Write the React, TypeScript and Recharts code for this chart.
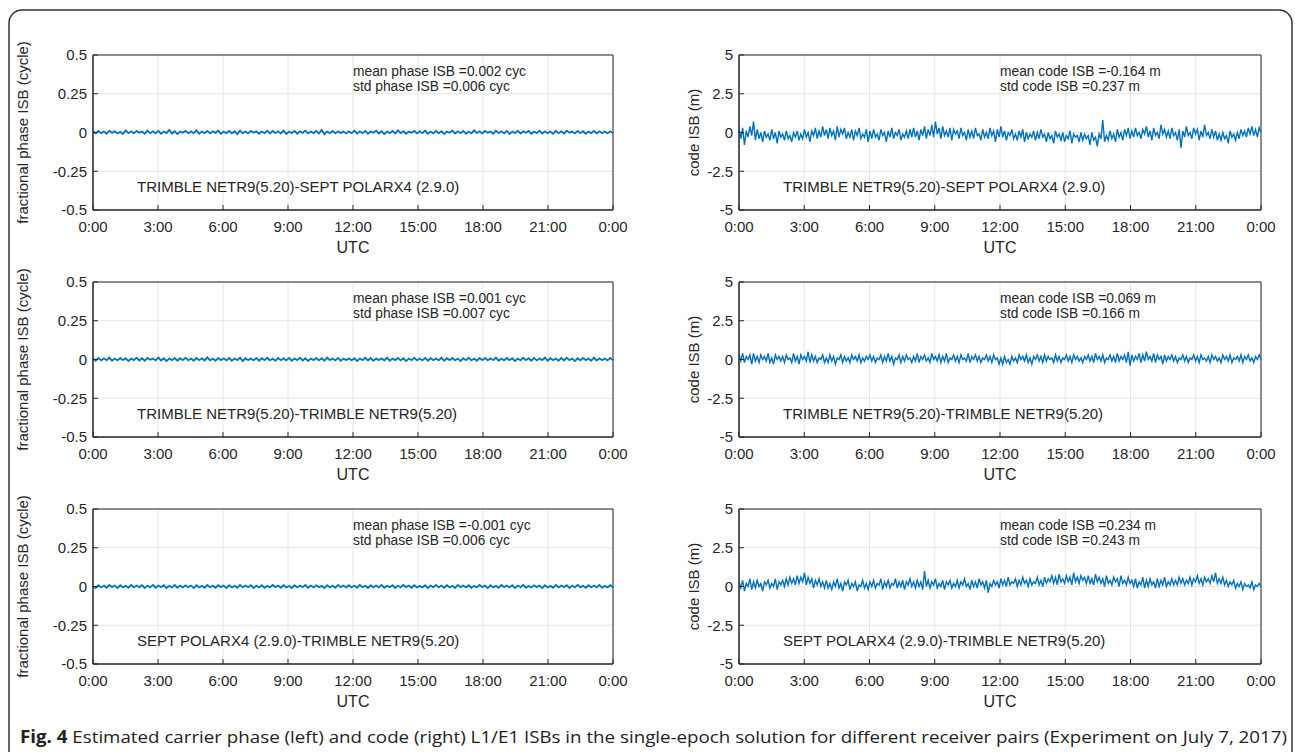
import { LineChart, Line, XAxis, YAxis, CartesianGrid, ReferenceArea } from 'recharts';

// hours of day, 0:00 -> next 0:00
const hourTicks = [0, 3, 6, 9, 12, 15, 18, 21, 24];
const phaseTicks = [-0.5, -0.25, 0, 0.25, 0.5];
const codeTicks = [-5, -2.5, 0, 2.5, 5];

// fractional phase ISB (cycle), every 7.5 min
const phaseTrimSept = [
  0.008, -0.006, 0.010, -0.004, 0.006, -0.008, 0.012, -0.002, 0.008, -0.006, 0.004, -0.010, 0.014, -0.004, 0.008, -0.006, 0.010, -0.002, 0.006, -0.008, 0.012, -0.004, 0.008, -0.006,
  0.010, -0.008, 0.006, -0.004, 0.016, -0.006, 0.008, -0.010, 0.006, -0.002, 0.010, -0.006, 0.008, -0.004, 0.014, -0.008, 0.006, -0.004, 0.010, -0.006, 0.008, -0.002, 0.012, -0.008,
  0.006, -0.004, 0.010, -0.006, 0.008, -0.010, 0.012, -0.004, 0.006, -0.006, 0.010, -0.002, 0.008, -0.008, 0.006, -0.004, 0.012, -0.006, 0.010, -0.004, 0.008, -0.006, 0.012, -0.010,
  0.006, -0.004, 0.010, -0.008, 0.008, -0.002, 0.012, -0.006, 0.006, -0.004, 0.010, -0.006, 0.016, -0.010, 0.006, -0.004, 0.010, -0.006, 0.008, -0.004, 0.006, -0.006, 0.008, -0.004,
  0.012, -0.006, 0.008, -0.004, 0.010, -0.008, 0.006, -0.002, 0.012, -0.006, 0.008, -0.010, 0.006, -0.004, 0.010, -0.006, 0.014, -0.004, 0.008, -0.008, 0.006, -0.002, 0.010, -0.006,
  0.008, -0.004, 0.012, -0.008, 0.006, -0.006, 0.010, -0.004, 0.008, -0.010, 0.006, -0.002, 0.012, -0.006, 0.008, -0.004, 0.010, -0.008, 0.006, -0.006, 0.014, -0.004, 0.008, -0.006,
  0.010, -0.002, 0.006, -0.008, 0.012, -0.004, 0.008, -0.006, 0.010, -0.010, 0.006, -0.004, 0.012, -0.006, 0.008, -0.002, 0.010, -0.008, 0.006, -0.004, 0.012, -0.006, 0.008, -0.004,
  0.006, -0.008, 0.010, -0.004, 0.008, -0.006, 0.012, -0.002, 0.006, -0.006, 0.010, -0.004, 0.008, -0.008, 0.006, -0.004, 0.010, -0.006, 0.008, -0.004, 0.006, -0.006, 0.008, -0.004,
];
const phaseTrimTrim = [
  0.006, -0.008, 0.010, -0.006, 0.008, -0.004, 0.012, -0.008, 0.006, -0.006, 0.010, -0.004, 0.008, -0.010, 0.006, -0.004, 0.012, -0.006, 0.008, -0.008, 0.010, -0.002, 0.006, -0.006,
  0.012, -0.006, 0.008, -0.010, 0.006, -0.004, 0.010, -0.008, 0.008, -0.004, 0.012, -0.006, 0.006, -0.008, 0.010, -0.004, 0.008, -0.006, 0.014, -0.006, 0.006, -0.008, 0.010, -0.004,
  0.008, -0.006, 0.010, -0.008, 0.006, -0.004, 0.012, -0.010, 0.008, -0.004, 0.006, -0.006, 0.010, -0.008, 0.008, -0.004, 0.012, -0.006, 0.006, -0.008, 0.010, -0.004, 0.008, -0.006,
  0.010, -0.008, 0.006, -0.004, 0.012, -0.006, 0.008, -0.010, 0.006, -0.004, 0.010, -0.006, 0.008, -0.008, 0.012, -0.004, 0.006, -0.006, 0.010, -0.008, 0.006, -0.004, 0.008, -0.006,
  0.008, -0.010, 0.006, -0.004, 0.012, -0.006, 0.010, -0.008, 0.006, -0.004, 0.008, -0.006, 0.012, -0.008, 0.006, -0.004, 0.010, -0.006, 0.008, -0.010, 0.006, -0.004, 0.012, -0.006,
  0.006, -0.006, 0.010, -0.008, 0.008, -0.004, 0.006, -0.006, 0.012, -0.008, 0.008, -0.004, 0.010, -0.006, 0.006, -0.010, 0.008, -0.004, 0.012, -0.006, 0.006, -0.008, 0.010, -0.004,
  0.010, -0.006, 0.008, -0.004, 0.012, -0.008, 0.006, -0.006, 0.010, -0.004, 0.008, -0.010, 0.006, -0.006, 0.012, -0.004, 0.008, -0.008, 0.010, -0.006, 0.006, -0.004, 0.012, -0.008,
  0.008, -0.004, 0.006, -0.008, 0.010, -0.006, 0.012, -0.004, 0.006, -0.010, 0.008, -0.006, 0.010, -0.004, 0.006, -0.008, 0.012, -0.006, 0.008, -0.004, 0.006, -0.006, 0.010, -0.006,
];
const phaseSeptTrim = [
  0.004, -0.010, 0.008, -0.006, 0.006, -0.008, 0.010, -0.004, 0.006, -0.010, 0.008, -0.006, 0.004, -0.008, 0.010, -0.006, 0.006, -0.004, 0.008, -0.010, 0.006, -0.006, 0.010, -0.008,
  0.006, -0.004, 0.008, -0.010, 0.004, -0.006, 0.010, -0.008, 0.006, -0.006, 0.008, -0.004, 0.006, -0.010, 0.008, -0.006, 0.004, -0.008, 0.010, -0.006, 0.006, -0.008, 0.008, -0.004,
  0.006, -0.010, 0.008, -0.006, 0.004, -0.008, 0.010, -0.006, 0.006, -0.004, 0.008, -0.010, 0.006, -0.006, 0.008, -0.008, 0.004, -0.006, 0.010, -0.004, 0.006, -0.008, 0.008, -0.006,
  0.004, -0.010, 0.008, -0.006, 0.006, -0.004, 0.010, -0.008, 0.006, -0.006, 0.008, -0.004, 0.004, -0.010, 0.008, -0.006, 0.006, -0.008, 0.010, -0.004, 0.006, -0.006, 0.008, -0.006,
  0.006, -0.008, 0.010, -0.004, 0.004, -0.010, 0.008, -0.006, 0.006, -0.006, 0.010, -0.008, 0.004, -0.004, 0.008, -0.010, 0.006, -0.006, 0.010, -0.004, 0.006, -0.008, 0.008, -0.006,
  0.004, -0.006, 0.008, -0.010, 0.006, -0.004, 0.010, -0.006, 0.006, -0.008, 0.008, -0.006, 0.004, -0.010, 0.010, -0.004, 0.006, -0.006, 0.008, -0.008, 0.004, -0.006, 0.010, -0.004,
  0.006, -0.010, 0.008, -0.006, 0.004, -0.008, 0.010, -0.004, 0.006, -0.006, 0.008, -0.010, 0.006, -0.004, 0.010, -0.008, 0.004, -0.006, 0.008, -0.004, 0.006, -0.010, 0.008, -0.006,
  0.004, -0.008, 0.010, -0.006, 0.006, -0.004, 0.008, -0.010, 0.006, -0.006, 0.010, -0.004, 0.004, -0.008, 0.008, -0.006, 0.006, -0.006, 0.010, -0.008, 0.004, -0.006, 0.008, -0.006,
];

// code ISB (m), every 5 min
const codeTrimSept = [
  0.2, -0.4, 0.3, -0.8, 0.1, -0.3, 0.4, -0.2, 0.7, -0.5, 0.2, -0.4, 0.0, -0.6, 0.1, -0.3, -0.1, -0.5, 0.2, -0.4, 0.0, -0.7, 0.1, -0.3,
  -0.1, -0.5, 0.1, -0.4, -0.2, -0.6, 0.0, -0.3, 0.1, -0.5, -0.1, -0.4, 0.2, -0.3, 0.0, -0.6, 0.1, -0.2, 0.3, -0.4, 0.1, -0.3, 0.4, -0.2,
  0.2, -0.4, 0.3, -0.2, 0.1, -0.5, 0.4, -0.3, 0.2, -0.1, 0.3, -0.4, 0.0, -0.3, 0.2, -0.5, 0.1, -0.2, 0.3, -0.4, -0.1, -0.3, 0.2, -0.6,
  0.1, -0.4, 0.2, -0.3, -0.1, -0.5, 0.2, -0.2, 0.0, -0.6, 0.1, -0.3, 0.3, -0.4, 0.0, -0.2, 0.2, -0.5, -0.1, -0.3, 0.1, -0.4, 0.2, -0.3,
  0.3, -0.3, 0.1, -0.5, 0.2, -0.2, 0.4, -0.4, 0.2, -0.2, 0.5, -0.3, 0.7, -0.1, 0.3, -0.4, 0.4, -0.2, 0.1, -0.3, 0.3, -0.5, 0.2, -0.1,
  0.1, -0.4, 0.3, -0.2, 0.0, -0.5, 0.2, -0.3, 0.1, -0.4, 0.3, -0.2, -0.1, -0.5, 0.2, -0.3, 0.0, -0.4, 0.3, -0.2, 0.1, -0.6, 0.2, -0.3,
  0.4, -0.3, 0.1, -0.5, 0.0, -0.2, 0.2, -0.4, -0.1, -0.5, 0.1, -0.3, 0.2, -0.6, 0.0, -0.4, -0.1, -0.3, 0.1, -0.5, 0.0, -0.4, 0.2, -0.3,
  -0.1, -0.6, 0.0, -0.4, -0.2, -0.7, 0.1, -0.3, -0.1, -0.5, 0.0, -0.6, -0.2, -0.4, 0.1, -0.7, -0.1, -0.3, -0.2, -0.6, 0.0, -0.5, -0.1, -0.4,
  -0.2, -0.8, 0.0, -0.5, -0.3, -0.9, -0.1, -0.4, 0.8, -0.6, -0.2, -0.5, 0.1, -0.4, -0.1, -0.6, 0.2, -0.3, 0.0, -0.5, 0.2, -0.2, 0.3, -0.4,
  0.1, -0.3, 0.3, -0.2, 0.0, -0.4, 0.2, -0.1, 0.4, -0.3, 0.1, -0.5, 0.3, -0.2, 0.0, -0.4, 0.5, -0.1, 0.2, -0.3, 0.1, -0.4, 0.3, -0.2,
  0.0, -0.5, 0.2, -1.0, 0.1, -0.3, 0.4, -0.2, 0.0, -0.4, 0.3, -0.1, 0.2, -0.5, 0.1, -0.3, 0.5, -0.2, 0.0, -0.4, 0.2, -0.3, 0.1, -0.5,
  -0.1, -0.5, 0.0, -0.4, -0.2, -0.7, 0.1, -0.3, -0.1, -0.5, 0.0, -0.4, 0.2, -0.2, 0.1, -0.3, 0.3, -0.1, 0.4, -0.2, 0.2, -0.3, 0.3, 0.0,
];
const codeTrimTrim = [
  0.3, -0.1, 0.4, -0.2, 0.2, 0.0, 0.3, -0.3, 0.4, -0.1, 0.2, -0.2, 0.3, 0.0, 0.2, -0.1, 0.4, -0.2, 0.1, -0.3, 0.3, 0.0, 0.2, -0.1,
  0.2, -0.2, 0.3, 0.0, 0.1, -0.2, 0.4, -0.1, 0.2, -0.3, 0.3, 0.0, 0.2, -0.1, 0.5, -0.2, 0.3, -0.1, 0.2, -0.2, 0.1, 0.0, 0.3, -0.2,
  0.1, -0.2, 0.3, -0.1, 0.2, -0.3, 0.1, 0.0, 0.3, -0.2, 0.2, -0.1, 0.1, -0.2, 0.3, 0.0, 0.2, -0.1, 0.3, -0.2, 0.1, -0.1, 0.2, 0.0,
  0.3, -0.1, 0.2, -0.2, 0.1, 0.0, 0.3, -0.2, 0.2, -0.1, 0.4, -0.1, 0.2, -0.3, 0.1, 0.0, 0.3, -0.2, 0.2, -0.1, 0.3, 0.0, 0.1, -0.2,
  0.2, -0.1, 0.4, -0.2, 0.2, 0.0, 0.3, -0.1, 0.1, -0.2, 0.4, 0.0, 0.2, -0.1, 0.3, -0.2, 0.2, -0.1, 0.4, -0.2, 0.1, 0.0, 0.3, -0.1,
  0.2, -0.2, 0.3, 0.0, 0.1, -0.1, 0.4, -0.2, 0.2, 0.0, 0.3, -0.1, 0.2, -0.2, 0.1, 0.0, 0.3, -0.1, 0.2, -0.2, 0.3, 0.0, 0.1, -0.3,
  0.1, -0.3, 0.2, -0.2, 0.0, -0.3, 0.2, -0.1, 0.1, -0.2, 0.3, 0.0, 0.2, -0.1, 0.3, -0.2, 0.1, -0.3, 0.2, 0.0, 0.3, -0.1, 0.2, -0.2,
  0.3, -0.1, 0.2, 0.0, 0.1, -0.2, 0.3, -0.1, 0.2, -0.2, 0.1, 0.0, 0.3, -0.1, 0.2, -0.2, 0.3, 0.0, 0.2, -0.1, 0.1, -0.2, 0.2, 0.0,
  0.3, -0.1, 0.2, -0.2, 0.4, 0.0, 0.2, -0.1, 0.3, -0.2, 0.1, 0.0, 0.3, -0.1, 0.2, -0.2, 0.4, -0.1, 0.2, 0.0, 0.3, -0.2, 0.5, -0.4,
  0.3, -0.1, 0.2, 0.0, 0.4, -0.2, 0.3, -0.1, 0.5, 0.0, 0.2, -0.1, 0.4, -0.2, 0.3, 0.0, 0.2, -0.3, 0.3, -0.1, 0.2, 0.0, 0.3, -0.1,
  0.2, -0.2, 0.1, 0.0, 0.3, -0.1, 0.2, -0.2, 0.1, 0.0, 0.3, -0.1, 0.2, -0.2, 0.3, 0.0, 0.1, -0.1, 0.2, -0.2, 0.3, 0.0, 0.2, -0.1,
  0.1, -0.2, 0.3, 0.0, 0.2, -0.1, 0.3, -0.2, 0.1, 0.0, 0.2, -0.1, 0.3, -0.2, 0.2, 0.0, 0.3, -0.1, 0.1, -0.2, 0.2, 0.0, 0.3, 0.0,
];
const codeSeptTrim = [
  0.3, -0.1, 0.4, -0.3, 0.2, 0.0, 0.5, -0.2, 0.3, -0.1, 0.4, 0.0, 0.2, -0.3, 0.3, 0.1, 0.4, -0.1, 0.2, 0.0, 0.5, -0.2, 0.3, 0.1,
  0.4, 0.0, 0.5, 0.1, 0.6, 0.2, 0.5, 0.1, 0.7, 0.2, 0.6, 0.3, 0.9, 0.1, 0.6, 0.2, 0.5, -0.1, 0.4, 0.1, 0.5, 0.0, 0.3, -0.1,
  0.4, -0.1, 0.2, -0.2, 0.3, 0.0, 0.5, -0.1, 0.2, -0.3, 0.3, 0.1, 0.4, -0.2, 0.2, 0.0, 0.3, -0.3, 0.1, 0.0, 0.4, -0.1, 0.2, -0.2,
  0.3, 0.0, 0.4, -0.1, 0.2, 0.1, 0.5, -0.2, 0.3, 0.0, 0.4, -0.1, 0.2, 0.1, 0.5, -0.1, 0.3, 0.0, 0.4, -0.2, 0.3, 0.1, 0.5, 0.0,
  0.3, -0.1, 0.4, 0.0, 0.3, -0.2, 1.0, 0.0, 0.4, -0.1, 0.3, 0.1, 0.5, -0.1, 0.2, 0.0, 0.4, -0.2, 0.3, 0.1, 0.4, -0.1, 0.2, 0.0,
  0.4, -0.1, 0.3, 0.1, 0.5, 0.0, 0.2, -0.2, 0.4, 0.0, 0.3, -0.1, 0.5, 0.1, 0.3, -0.1, 0.4, -0.4, 0.2, 0.0, 0.4, 0.1, 0.3, -0.1,
  0.5, 0.1, 0.4, 0.0, 0.6, 0.1, 0.3, 0.2, 0.5, 0.0, 0.4, 0.1, 0.6, 0.2, 0.4, 0.0, 0.5, 0.1, 0.3, 0.2, 0.6, 0.1, 0.4, 0.0,
  0.6, 0.2, 0.5, 0.3, 0.7, 0.2, 0.6, 0.1, 0.8, 0.3, 0.5, 0.2, 0.7, 0.3, 0.6, 0.1, 0.9, 0.3, 0.6, 0.2, 0.7, 0.4, 0.6, 0.2,
  0.7, 0.2, 0.5, 0.1, 0.8, 0.3, 0.6, 0.2, 0.5, 0.0, 0.7, 0.2, 0.4, 0.1, 0.6, 0.3, 0.5, 0.0, 0.7, 0.2, 0.4, 0.1, 0.6, 0.2,
  0.4, 0.0, 0.5, -0.1, 0.3, 0.1, 0.6, -0.1, 0.4, 0.0, 0.5, 0.1, 0.3, -0.1, 0.5, 0.0, 0.4, 0.1, 0.6, 0.0, 0.3, 0.1, 0.5, 0.1,
  0.4, 0.1, 0.6, 0.2, 0.5, 0.1, 0.4, 0.2, 0.6, 0.1, 0.5, 0.3, 0.7, 0.2, 0.5, 0.1, 0.6, 0.3, 0.5, 0.2, 0.7, 0.3, 0.9, 0.2,
  0.5, 0.2, 0.6, 0.1, 0.4, 0.0, 0.3, 0.1, 0.4, -0.1, 0.2, 0.0, 0.3, -0.2, 0.2, 0.0, 0.1, -0.1, 0.3, -0.2, 0.1, 0.0, 0.2, 0.0,
];

const pairNames = [
  'TRIMBLE NETR9(5.20)-SEPT POLARX4 (2.9.0)',
  'TRIMBLE NETR9(5.20)-TRIMBLE NETR9(5.20)',
  'SEPT POLARX4 (2.9.0)-TRIMBLE NETR9(5.20)',
];
const phaseMeans = ['0.002', '0.001', '-0.001'];
const phaseStds = ['0.006', '0.007', '0.006'];
const codeMeans = ['-0.164', '0.069', '0.234'];
const codeStds = ['0.237', '0.166', '0.243'];

const phaseSeries = [phaseTrimSept, phaseTrimTrim, phaseSeptTrim];
const codeSeries = [codeTrimSept, codeTrimTrim, codeSeptTrim];

const BLUE = '#0072BD';
const INK = '#262626';
const FONT = '"Liberation Sans", Arial, Helvetica, sans-serif';

const toRows = (vals: number[]) => vals.map((v, i) => ({ t: (i * 24) / (vals.length - 1), v }));

const fmtHour = (h: number) => `${h % 24}:00`;

const yTitle = (text: string, x: number) => (props: any) => {
  const vb = props.viewBox || {};
  const cy = vb.y + vb.height / 2;
  return (
    <text
      x={x}
      y={cy}
      transform={`rotate(-90, ${x}, ${cy})`}
      textAnchor="middle"
      dominantBaseline="central"
      fontSize={15}
      fontFamily={FONT}
      fill={INK}
    >
      {text}
    </text>
  );
};

function Panel({
  data, ticks, yLabel, titleX, plotWidth, rightMargin, lineWidth,
}: {
  data: { t: number; v: number }[];
  ticks: number[];
  yLabel: string;
  titleX: number;
  plotWidth: number;
  rightMargin: number;
  lineWidth: number;
}) {
  const lo = ticks[0];
  const hi = ticks[ticks.length - 1];
  return (
    <LineChart
      width={93 + plotWidth + rightMargin}
      height={225}
      data={data}
      margin={{ top: 15, right: rightMargin, left: 0, bottom: 0 }}
    >
      <CartesianGrid stroke="#e6e6e6" strokeWidth={1} />
      <XAxis
        dataKey="t"
        type="number"
        domain={[0, 24]}
        ticks={hourTicks}
        tickFormatter={fmtHour}
        height={55}
        tickSize={-5}
        tickMargin={16}
        stroke={INK}
        tick={{ fill: INK, fontSize: 15, fontFamily: FONT }}
        interval={0}
        label={{ value: 'UTC', position: 'insideTop', offset: 32, fill: INK, fontSize: 16, fontFamily: FONT }}
      />
      <YAxis
        type="number"
        domain={[lo, hi]}
        ticks={ticks}
        width={93}
        tickSize={-5}
        tickMargin={11}
        stroke={INK}
        interval={0}
        tick={{ fill: INK, fontSize: 15, fontFamily: FONT }}
        label={{ content: yTitle(yLabel, titleX) }}
      />
      <Line type="linear" dataKey="v" stroke={BLUE} strokeWidth={lineWidth} dot={false} isAnimationActive={false} />
      {/* axes box */}
      <ReferenceArea x1={0} x2={24} y1={lo} y2={hi} fill="none" stroke={INK} strokeWidth={1} ifOverflow="extendDomain" />
    </LineChart>
  );
}

const note: React.CSSProperties = {
  position: 'absolute',
  fontFamily: FONT,
  fontSize: 13.8,
  lineHeight: '15px',
  color: INK,
  whiteSpace: 'nowrap',
};
const pairStyle: React.CSSProperties = {
  position: 'absolute',
  fontFamily: FONT,
  fontSize: 15,
  lineHeight: '18px',
  color: INK,
  whiteSpace: 'nowrap',
};

export default function App() {
  return (
    <div style={{ position: 'absolute', left: 0, top: 0, width: 1295, height: 752, background: '#fff', overflow: 'hidden' }}>
      <svg width={1295} height={752} style={{ position: 'absolute', left: 0, top: 0 }}>
        <rect x={9} y={10} width={1283} height={780} rx={13} ry={13} fill="none" stroke="#333" strokeWidth={1.5} />
        <text x={20} y={743} fontFamily='"Open Sans", "Noto Sans", sans-serif' fontSize={17} fill="#222"
          textLength={1267} lengthAdjust="spacingAndGlyphs">
          <tspan fontWeight="bold">Fig. 4</tspan>
          {' Estimated carrier phase (left) and code (right) L1/E1 ISBs in the single-epoch solution for different receiver pairs (Experiment on July 7, 2017)'}
        </text>
      </svg>
      {pairNames.map((pair, r) => (
        <div key={pair}>
          <div style={{ position: 'absolute', left: 0, top: 40 + 227 * r }}>
            <Panel data={toRows(phaseSeries[r])} ticks={phaseTicks} yLabel="fractional phase ISB (cycle)"
              titleX={22} plotWidth={520} rightMargin={27} lineWidth={1.8} />
          </div>
          <div style={{ position: 'absolute', left: 646, top: 40 + 227 * r }}>
            <Panel data={toRows(codeSeries[r])} ticks={codeTicks} yLabel="code ISB (m)"
              titleX={47} plotWidth={522} rightMargin={25} lineWidth={1.4} />
          </div>
          <div style={{ ...note, left: 353, top: 64 + 227 * r }}>
            mean phase ISB ={phaseMeans[r]} cyc<br />std phase ISB ={phaseStds[r]} cyc
          </div>
          <div style={{ ...note, left: 1000, top: 64 + 227 * r }}>
            mean code ISB ={codeMeans[r]} m<br />std code ISB ={codeStds[r]} m
          </div>
          <div style={{ ...pairStyle, left: 137, top: 178 + 227 * r }}>{pair}</div>
          <div style={{ ...pairStyle, left: 783, top: 178 + 227 * r }}>{pair}</div>
        </div>
      ))}
    </div>
  );
}
